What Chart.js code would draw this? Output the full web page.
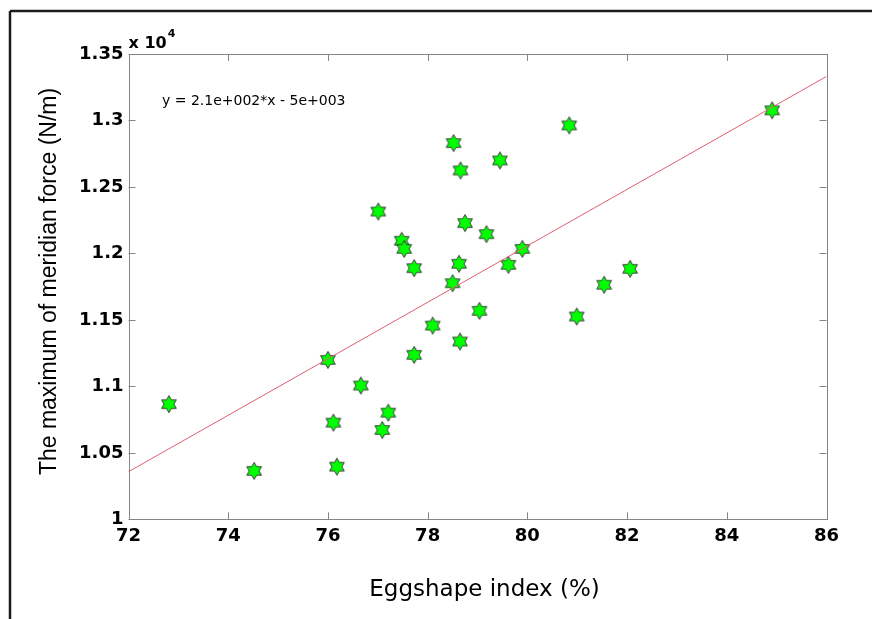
<!DOCTYPE html>
<html>
<head>
<meta charset="utf-8">
<script src="https://cdn.jsdelivr.net/npm/chart.js@4/dist/chart.umd.min.js"></script>
<style>
html,body{margin:0;padding:0;background:#fff;}
canvas{display:block;}
</style>
</head>
<body>
<canvas id="c" width="872" height="619"></canvas>
<script>
// Eggshape index (%) of each egg
const eggIndex = [72.81, 74.52, 76.00, 76.11, 76.18, 76.66, 77.01, 77.09, 77.21, 77.48,
                  77.53, 77.73, 77.73, 78.10, 78.50, 78.52, 78.63, 78.65, 78.66, 78.75,
                  79.04, 79.18, 79.45, 79.62, 79.90, 80.84, 80.99, 81.54, 82.06, 84.91];
// Maximum of meridian force (N/m)
const meridianForce = [10866, 10364, 11199, 10727, 10396, 11006, 12315, 10672, 10802, 12095,
                       12034, 11889, 11237, 11457, 11776, 12830, 11922, 11337, 12624, 12228,
                       11568, 12145, 12699, 11914, 12034, 12963, 11525, 11764, 11884, 13076];
// Fitted line end points
const fitX = [72, 86];
const fitY = [10358, 13331];
const equationText = 'y = 2.1e+002*x - 5e+003';
const xTitle = 'Eggshape index (%)';
const yTitle = 'The maximum of meridian force (N/m)';
const xTickValues = [72, 74, 76, 78, 80, 82, 84, 86];
const yTickLabels = ['1', '1.05', '1.1', '1.15', '1.2', '1.25', '1.3', '1.35'];

function makeStar(R){
  const s = 22;
  const c = document.createElement('canvas'); c.width = s; c.height = s;
  const g = c.getContext('2d'); const cx = s/2, cy = s/2; const r = R/Math.sqrt(3);
  g.beginPath();
  for (let i = 0; i < 12; i++) {
    const ang = -Math.PI/2 + i*Math.PI/6;
    const rad = (i % 2 === 0) ? R : r;
    g.lineTo(cx + rad*Math.cos(ang), cy + rad*Math.sin(ang));
  }
  g.closePath();
  g.fillStyle = '#00ff00'; g.fill();
  g.strokeStyle = '#3c3c3c'; g.lineWidth = 1; g.stroke();
  return c;
}
const star = makeStar(8.5);

const decor = {
  id: 'decor',
  beforeDraw(chart){
    const ctx = chart.ctx;
    ctx.save();
    ctx.fillStyle = '#fff'; ctx.fillRect(0, 0, chart.width, chart.height);
    ctx.strokeStyle = '#1c1c1c'; ctx.lineWidth = 2.5;
    ctx.beginPath();
    ctx.moveTo(10, 11); ctx.lineTo(chart.width, 11);
    ctx.moveTo(10, 11); ctx.lineTo(10, chart.height);
    ctx.stroke();
    ctx.restore();
  },
  beforeDatasetsDraw(chart){
    const ctx = chart.ctx, a = chart.chartArea, xs = chart.scales.x, ys = chart.scales.y;
    ctx.save();
    ctx.strokeStyle = '#858585'; ctx.lineWidth = 1;
    ctx.strokeRect(Math.round(a.left)+0.5, Math.round(a.top)+0.5, Math.round(a.right-a.left), Math.round(a.bottom-a.top));
    ctx.beginPath();
    const L = 7;
    xs.ticks.forEach(t => {
      const p = Math.round(xs.getPixelForValue(t.value)) + 0.5;
      ctx.moveTo(p, a.bottom); ctx.lineTo(p, a.bottom - L);
      ctx.moveTo(p, a.top); ctx.lineTo(p, a.top + L);
    });
    ys.ticks.forEach(t => {
      const p = Math.round(ys.getPixelForValue(t.value)) + 0.5;
      ctx.moveTo(a.left, p); ctx.lineTo(a.left + L, p);
      ctx.moveTo(a.right, p); ctx.lineTo(a.right - L, p);
    });
    ctx.stroke();
    ctx.restore();
  },
  afterDraw(chart){
    const ctx = chart.ctx, a = chart.chartArea;
    ctx.save();
    ctx.fillStyle = '#000';
    // exponent label
    ctx.font = 'bold 16px "DejaVu Sans"';
    ctx.textBaseline = 'alphabetic'; ctx.textAlign = 'left';
    ctx.fillText('x 10', a.left, 48);
    const w = ctx.measureText('x 10').width;
    ctx.font = 'bold 11px "DejaVu Sans"';
    ctx.fillText('4', a.left + w + 1, 37);
    // equation
    ctx.font = '14px "DejaVu Sans"';
    ctx.textBaseline = 'middle';
    ctx.fillText(equationText, 162, 101);
    // x title
    ctx.font = '23px "DejaVu Sans"';
    ctx.textAlign = 'center';
    ctx.fillText(xTitle, 484.5, 590);
    // y title
    ctx.translate(50, 281.5);
    ctx.rotate(-Math.PI/2);
    ctx.font = '23px "Liberation Sans"';
    ctx.fillText(yTitle, 0, 0);
    ctx.restore();
  }
};

new Chart(document.getElementById('c'), {
  type: 'scatter',
  data: {
    datasets: [
      {
        type: 'line',
        data: fitX.map((x, i) => ({x: x, y: fitY[i]})),
        borderColor: 'rgb(222,96,110)',
        borderWidth: 1,
        pointRadius: 0,
        fill: false,
        tension: 0
      },
      {
        data: eggIndex.map((x, i) => ({x: x, y: meridianForce[i]})),
        pointStyle: star,
        pointRadius: 8,
        pointHoverRadius: 8
      }
    ]
  },
  plugins: [decor],
  options: {
    responsive: false,
    animation: false,
    devicePixelRatio: 1,
    layout: { padding: { left: 0, top: 54, right: 45.5, bottom: 0 } },
    plugins: { legend: { display: false }, tooltip: { enabled: false } },
    scales: {
      x: {
        type: 'linear', min: 72, max: 86,
        afterFit(s){ s.height = 99.7; },
        afterBuildTicks(s){ s.ticks = xTickValues.map(v => ({value: v})); },
        grid: { display: false, drawTicks: false },
        border: { display: false },
        ticks: {
          padding: 6, autoSkip: false, maxRotation: 0,
          color: '#000',
          font: { family: '"DejaVu Sans"', size: 18, weight: 'bold' },
          callback: v => String(v)
        }
      },
      y: {
        type: 'linear', min: 10000, max: 13500,
        afterFit(s){ s.width = 128.5; },
        afterBuildTicks(s){ s.ticks = yTickLabels.map((l, i) => ({value: 10000 + i*500, label: l})); },
        grid: { display: false, drawTicks: false },
        border: { display: false },
        ticks: {
          padding: 5, autoSkip: false,
          color: '#000',
          font: { family: '"DejaVu Sans"', size: 18, weight: 'bold' },
          callback: (v, i) => yTickLabels[i]
        }
      }
    }
  }
});
</script>
</body>
</html>
